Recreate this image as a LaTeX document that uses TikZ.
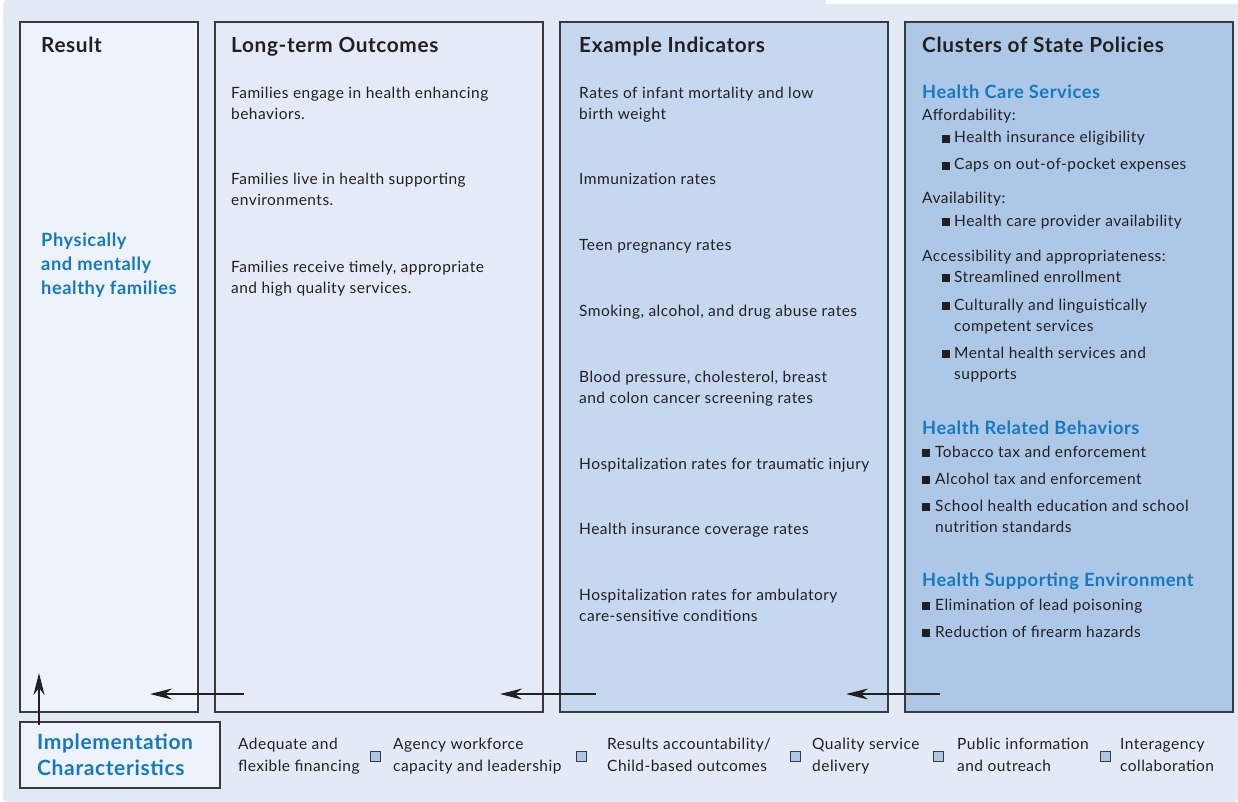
\documentclass[tikz,border=0pt]{standalone}
\usepackage{fontspec}
\setmainfont{Lato}[LetterSpace=3.0]
\usetikzlibrary{arrows.meta}
\definecolor{bgc}{HTML}{E2EAF6}
\definecolor{resc}{HTML}{EEF3FB}
\definecolor{ltc}{HTML}{E4EBF7}
\definecolor{exc}{HTML}{C5D8EF}
\definecolor{clc}{HTML}{ADC8E7}
\definecolor{bordc}{HTML}{3A3A3C}
\definecolor{txtc}{HTML}{231F20}
\definecolor{bluec}{HTML}{1479C0}
\tikzset{
  col/.style={draw=bordc, line width=1.3pt},
  title/.style={anchor=base west, inner sep=0, text=txtc, font=\fontsize{20.8}{24}\selectfont\bfseries},
  txt/.style={anchor=base west, inner sep=0, text=txtc, font=\fontsize{15.5}{18}\selectfont},
  head/.style={anchor=base west, inner sep=0, text=bluec, font=\fontsize{18.3}{21}\selectfont\bfseries},
  bighead/.style={head, font=\fontsize{21}{24}\selectfont\bfseries},
  bul/.style={txt},
  osq/.style={draw=bordc, fill=clc, line width=1pt},
  arr/.style={draw=txtc, line width=1.2pt, -{Stealth[length=22pt,width=11pt,inset=7pt]}},
}
\newcommand{\bsq}[2]{\fill[txtc] (#1,#2) rectangle ++(8,-8);}
\begin{document}
\begin{tikzpicture}[x=1pt,y=-1pt]
\useasboundingbox (0,0) rectangle (1238,802);
\fill[bgc, rounded corners=4pt] (3,0) rectangle (1238,802);
\fill[white] (826,0) rectangle (1238,4);
% columns
\draw[col, fill=resc] (20,22) rectangle (198,712);
\draw[col, fill=ltc] (215,22) rectangle (543,712);
\draw[col, fill=exc] (560,22) rectangle (888,712);
\draw[col, fill=clc] (905,22) rectangle (1233,712);
\node[draw=bordc, line width=1.3pt, fill=resc, minimum width=200pt, minimum height=66pt, inner sep=0] (impl) at (120,755) {};
% titles
\node[title] (t1) at (41,53) {Result};
\node[title] (t2) at (231,53) {Long-term Outcomes};
\node[title] (t3) at (579,53) {Example Indicators};
\node[title] (t4) at (922,53) {Clusters of State Policies};
% result
\node[head] (r1) at (41,246) {Physically};
\node[head] (r2) at (41,270) {and mentally};
\node[head] (r3) at (41,294) {healthy families};
% long-term outcomes
\node[txt] (l1a) at (231,99) {Families engage in health enhancing};
\node[txt] (l1b) at (231,120) {behaviors.};
\node[txt] (l2a) at (231,185) {Families live in health supporting};
\node[txt] (l2b) at (231,206) {environments.};
\node[txt] (l3a) at (231,272) {Families receive timely, appropriate};
\node[txt] (l3b) at (231,293) {and high quality services.};
% example indicators
\node[txt] (e1a) at (579,99) {Rates of infant mortality and low};
\node[txt] (e1b) at (579,120) {birth weight};
\node[txt] (e2) at (579,185) {Immunization rates};
\node[txt] (e3) at (579,251) {Teen pregnancy rates};
\node[txt] (e4) at (579,316) {Smoking, alcohol, and drug abuse rates};
\node[txt] (e5a) at (579,382) {Blood pressure, cholesterol, breast};
\node[txt] (e5b) at (579,403) {and colon cancer screening rates};
\node[txt] (e6) at (579,469) {Hospitalization rates for traumatic injury};
\node[txt] (e7) at (579,534) {Health insurance coverage rates};
\node[txt] (e8a) at (579,600) {Hospitalization rates for ambulatory};
\node[txt] (e8b) at (579,621) {care-sensitive conditions};
% clusters
\node[head] (c1) at (922,99) {Health Care Services};
\node[bul] (c1a) at (922,121) {Affordability:};
\bsq{942}{143}\node[bul] (c1a1) at (954,143) {Health insurance eligibility};
\bsq{942}{170}\node[bul] (c1a2) at (954,170) {Caps on out-of-pocket expenses};
\node[bul] (c1b) at (922,204) {Availability:};
\bsq{942}{226}\node[bul] (c1b1) at (954,226) {Health care provider availability};
\node[bul] (c1c) at (922,261) {Accessibility and appropriateness:};
\bsq{942}{282}\node[bul] (c1c1) at (954,282) {Streamlined enrollment};
\bsq{942}{310}\node[bul] (c1c2) at (954,310) {Culturally and linguistically};
\node[bul] (c1c2b) at (954,331) {competent services};
\bsq{942}{358}\node[bul] (c1c3) at (954,358) {Mental health services and};
\node[bul] (c1c3b) at (954,379) {supports};
\node[head] (c2) at (922,434) {Health Related Behaviors};
\bsq{922}{457}\node[bul] (c2a) at (935,457) {Tobacco tax and enforcement};
\bsq{922}{484}\node[bul] (c2b) at (935,484) {Alcohol tax and enforcement};
\bsq{922}{511}\node[bul] (c2c) at (935,511) {School health education and school};
\node[bul] (c2cb) at (935,532) {nutrition standards};
\node[head] (c3) at (922,586) {Health Supporting Environment};
\bsq{922}{610}\node[bul] (c3a) at (935,610) {Elimination of lead poisoning};
\bsq{922}{637}\node[bul] (c3b) at (935,637) {Reduction of firearm hazards};
% arrows
\coordinate (a1s) at (244,694); \coordinate (a1e) at (150,694);
\coordinate (a2s) at (596,694); \coordinate (a2e) at (500,694);
\coordinate (a3s) at (940,694); \coordinate (a3e) at (846,694);
\coordinate (a4s) at (39,725); \coordinate (a4e) at (39,673);
\draw[arr] (a1s) -- (a1e);
\draw[arr] (a2s) -- (a2e);
\draw[arr] (a3s) -- (a3e);
\draw[arr] (a4s) -- (a4e);
% implementation
\node[bighead] (i1) at (37,749) {Implementation};
\node[bighead] (i2) at (37,775) {Characteristics};
\node[txt] (b1a) at (238,749) {Adequate and};
\node[txt] (b1b) at (238,771) {flexible financing};
\draw[osq] (370,751) rectangle (380,761);
\node[txt] (b2a) at (393,749) {Agency workforce};
\node[txt] (b2b) at (393,771) {capacity and leadership};
\draw[osq] (576,751) rectangle (586,761);
\node[txt] (b3a) at (607,749) {Results accountability/};
\node[txt] (b3b) at (607,771) {Child-based outcomes};
\draw[osq] (790,751) rectangle (800,761);
\node[txt] (b4a) at (812,749) {Quality service};
\node[txt] (b4b) at (812,771) {delivery};
\draw[osq] (933,751) rectangle (943,761);
\node[txt] (b5a) at (957,749) {Public information};
\node[txt] (b5b) at (957,771) {and outreach};
\draw[osq] (1100,751) rectangle (1110,761);
\node[txt] (b6a) at (1120,749) {Interagency};
\node[txt] (b6b) at (1120,771) {collaboration};
\end{tikzpicture}
\end{document}
